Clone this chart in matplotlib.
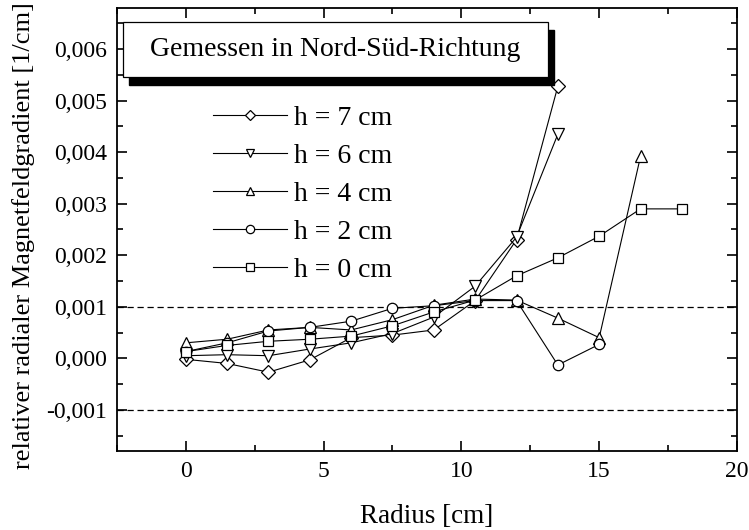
import matplotlib
matplotlib.use('Agg')
import matplotlib.pyplot as plt
from matplotlib.patches import Rectangle
from matplotlib.ticker import MultipleLocator, FuncFormatter

plt.rcParams['font.family'] = ['Liberation Serif', 'DejaVu Serif']

radius = [0, 1.5, 3, 4.5, 6, 7.5, 9, 10.5, 12, 13.5, 15, 16.5, 18]

h7 = [-0.00002, -0.00010, -0.00027, -0.00003, 0.00040, 0.00045, 0.00055, 0.00112, 0.00230, 0.00528]
h6 = [0.00005, 0.00007, 0.00005, 0.00018, 0.00030, 0.00048, 0.00080, 0.00140, 0.00235, 0.00435]
h4 = [0.00030, 0.00037, 0.00055, 0.00060, 0.00055, 0.00075, 0.00103, 0.00115, 0.00113, 0.00078, 0.00040, 0.00392]
h2 = [0.00013, 0.00030, 0.00053, 0.00060, 0.00072, 0.00097, 0.00102, 0.00112, 0.00112, -0.00013, 0.00027]
h0 = [0.00013, 0.00025, 0.00033, 0.00037, 0.00043, 0.00063, 0.00090, 0.00113, 0.00160, 0.00195, 0.00237, 0.00290, 0.00290]

series = [
    ("h = 7 cm", h7, "D", 7.0),
    ("h = 6 cm", h6, "v", 8.0),
    ("h = 4 cm", h4, "^", 8.0),
    ("h = 2 cm", h2, "o", 7.5),
    ("h = 0 cm", h0, "s", 7.0),
]

fig = plt.figure(figsize=(7.49, 5.30), dpi=100)
ax = fig.add_axes([0.156, 0.149, 0.828, 0.836])

for label, vals, marker, ms in series:
    ax.plot(radius[:len(vals)], vals, color="black", linewidth=0.8,
            marker=marker, markersize=ms, markerfacecolor="white",
            markeredgecolor="black", markeredgewidth=0.9, label=label)

ax.axhline(0.001, color="black", linestyle=(0, (5, 3)), linewidth=0.9, zorder=0)
ax.axhline(-0.001, color="black", linestyle=(0, (5, 3)), linewidth=0.9, zorder=0)

ax.set_xlim(-2.5, 20)
ax.set_ylim(-0.0018, 0.0068)
ax.xaxis.set_major_locator(MultipleLocator(5))
ax.xaxis.set_minor_locator(MultipleLocator(2.5))
ax.yaxis.set_major_locator(MultipleLocator(0.001))
ax.yaxis.set_minor_locator(MultipleLocator(0.0005))
ax.yaxis.set_major_formatter(FuncFormatter(lambda v, p: f"{v:.3f}".replace(".", ",").replace("-0,000", "0,000")))
ax.tick_params(which="both", direction="in", top=True, right=True, labelsize=17, width=1.2)
ax.tick_params(which="major", length=7, pad=7)
ax.tick_params(which="minor", length=4)
for s in ax.spines.values():
    s.set_linewidth(1.3)

ax.set_xlabel("Radius [cm]", fontsize=19.5, labelpad=16)
ax.set_ylabel("relativer radialer Magnetfeldgradient [1/cm]", fontsize=19)
ax.yaxis.set_label_coords(-0.132, 0.487)

# title box with a drop shadow
bx, by, bw, bh = 0.0097, 0.844, 0.685, 0.124
ax.add_patch(Rectangle((bx + 0.010, by - 0.018), bw, bh, transform=ax.transAxes,
                       facecolor="black", edgecolor="black", zorder=5))
ax.add_patch(Rectangle((bx, by), bw, bh, transform=ax.transAxes,
                       facecolor="white", edgecolor="black", linewidth=0.9, zorder=6))
ax.text(bx + bw / 2, by + bh / 2, "Gemessen in Nord-Süd-Richtung", transform=ax.transAxes,
        ha="center", va="center", fontsize=20, zorder=7)

ax.legend(loc="upper left", bbox_to_anchor=(0.155, 0.78), frameon=False, fontsize=20,
          handlelength=2.66, handletextpad=0.25, labelspacing=0.45, borderpad=0,
          borderaxespad=0, markerscale=0.8)

fig.savefig("out.png", dpi=100)
